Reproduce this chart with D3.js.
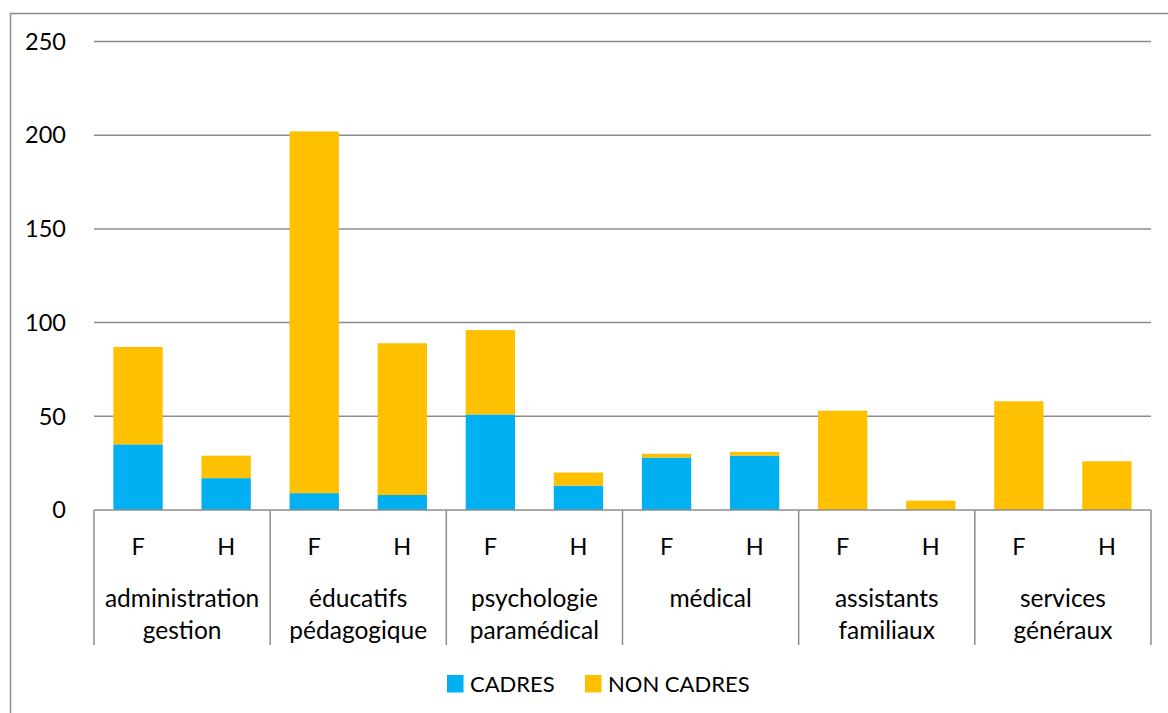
<!DOCTYPE html>
<html>
<head>
<meta charset="utf-8">
<script src="https://cdn.jsdelivr.net/npm/d3@7"></script>
<style>
  body { margin: 0; background: #fff; }
  text { font-family: Lato, "Open Sans", sans-serif; fill: #000; }
</style>
</head>
<body>
<script>
// Chart data
var groups = [["administration", "gestion"], ["éducatifs", "pédagogique"], ["psychologie", "paramédical"],
              ["médical"], ["assistants", "familiaux"], ["services", "généraux"]];
var sexes = ["F", "H"];
var cadres    = [35, 17, 9, 8, 51, 13, 28, 29, 0, 0, 0, 0];
var nonCadres = [52, 12, 193, 81, 45, 7, 2, 2, 53, 5, 58, 26];
var yTicks = [0, 50, 100, 150, 200, 250];
var seriesNames = ["CADRES", "NON CADRES"];
var colors = ["#00B0F0", "#FFC000"];

var svgWidth = 1168, svgHeight = 713;
var margin = {top: 41.5, left: 94, right: 17, bottom: 203};
var width = svgWidth - margin.left - margin.right;
var height = svgHeight - margin.top - margin.bottom;

var svg = d3.select("body").append("svg")
  .attr("width", svgWidth)
  .attr("height", svgHeight);

// outer chart border (cut by the picture on right and bottom)
svg.append("rect")
  .attr("x", 10.5).attr("y", 13.5)
  .attr("width", 1200).attr("height", 800)
  .attr("fill", "none").attr("stroke", "#8c8c8c").attr("stroke-width", 1.5);

var g = svg.append("g").attr("transform", `translate(${margin.left},${margin.top})`);

// one band per bar
var keys = [];
groups.forEach(function(grp, i) {
  sexes.forEach(function(s) { keys.push(i + "-" + s); });
});
var x = d3.scaleBand().domain(keys).range([0, width]).paddingInner(0.44).paddingOuter(0.22);
var y = d3.scaleLinear().domain([0, 250]).range([height, 0]);

// gridlines
g.selectAll(".grid").data(yTicks.slice(1)).enter().append("line")
  .attr("x1", 0).attr("x2", width)
  .attr("y1", d => y(d)).attr("y2", d => y(d))
  .attr("stroke", "#8c8c8c").attr("stroke-width", 1.5);

// y axis labels
g.selectAll(".ylab").data(yTicks).enter().append("text")
  .attr("x", -28).attr("y", d => y(d))
  .attr("dy", "0.35em")
  .attr("text-anchor", "end")
  .style("font-size", "23.5px")
  .text(d => d);

// stacked bars
var rows = keys.map(function(k, i) { return {key: k, CADRES: cadres[i], "NON CADRES": nonCadres[i]}; });
var stack = d3.stack().keys(seriesNames)(rows);
g.selectAll(".layer").data(stack).enter().append("g")
  .attr("fill", (d, i) => colors[i])
  .selectAll("rect").data(d => d).enter().append("rect")
  .attr("x", d => x(d.data.key))
  .attr("width", x.bandwidth())
  .attr("y", d => y(d[1]))
  .attr("height", d => y(d[0]) - y(d[1]));

// category axis
var groupW = width / groups.length;
g.append("line")
  .attr("x1", 0).attr("x2", width)
  .attr("y1", height).attr("y2", height)
  .attr("stroke", "#8c8c8c").attr("stroke-width", 1.5);
g.selectAll(".div").data(d3.range(groups.length + 1)).enter().append("line")
  .attr("x1", d => d * groupW).attr("x2", d => d * groupW)
  .attr("y1", height).attr("y2", height + 135)
  .attr("stroke", "#8c8c8c").attr("stroke-width", 1.5);

g.selectAll(".sex").data(keys).enter().append("text")
  .attr("x", d => x(d) + x.bandwidth() / 2)
  .attr("y", height + 37)
  .attr("dy", "0.35em")
  .attr("text-anchor", "middle")
  .style("font-size", "23.5px")
  .text(d => d.split("-")[1]);

var catText = g.selectAll(".cat").data(groups).enter().append("text")
  .attr("text-anchor", "middle")
  .style("font-size", "24.5px");
catText.selectAll("tspan").data((d, i) => d.map(t => ({t: t, i: i}))).enter().append("tspan")
  .attr("x", d => (d.i + 0.5) * groupW)
  .attr("y", (d, j) => height + 88 + j * 32)
  .attr("dy", "0.35em")
  .text(d => d.t);

// legend
var legend = svg.append("g").attr("transform", "translate(447,675)");
var legX = [0, 138];
seriesNames.forEach(function(name, i) {
  legend.append("rect")
    .attr("x", legX[i]).attr("y", 0)
    .attr("width", 16.5).attr("height", 17.5)
    .attr("fill", colors[i]);
  legend.append("text")
    .attr("x", legX[i] + 23).attr("y", 9)
    .attr("dy", "0.35em")
    .style("font-size", "22px")
    .text(name);
});
</script>
</body>
</html>
